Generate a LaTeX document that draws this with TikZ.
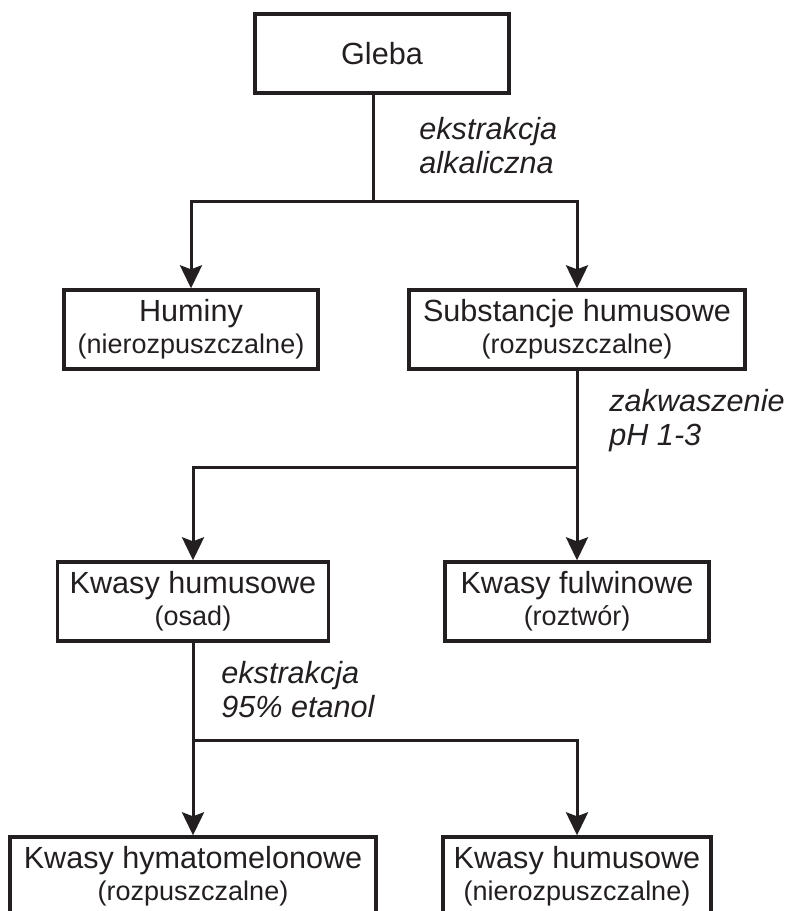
\documentclass[tikz,border=0pt]{standalone}
\usepackage{fontspec}
\setmainfont{Liberation Sans}
\usepackage{tikz}
\usetikzlibrary{arrows.meta}
\definecolor{ciemny}{HTML}{231F20}
\newcommand{\opis}[1]{{\fontsize{13.5}{16}\selectfont #1}}

\begin{document}
\begin{tikzpicture}[x=0.5pt, y=-0.5pt,
        >={Stealth[length=11.5pt, width=11pt, inset=2pt]},
        etap/.style={draw=ciemny, line width=1.7pt, minimum height=39.5pt, inner sep=0pt,
            align=center, text=ciemny, font=\fontsize{15.3}{16}\selectfont},
        proces/.style={anchor=north west, inner sep=0pt, align=left, text=ciemny,
            font=\fontsize{15.3}{17}\selectfont\itshape},
        linia/.style={draw=ciemny, line width=1.5pt}]
        \useasboundingbox (0,0) rectangle (790,911);
        \clip (0,0) rectangle (790,911);

        \node[etap, minimum width=127pt] (gleba) at (382,53.5) {Gleba};
        \node[etap, minimum width=127pt] (huminy) at (191,329.5) {Huminy\\\opis{(nierozpuszczalne)}};
        \node[etap, minimum width=168pt] (substancje) at (577,329.5) {Substancje humusowe\\\opis{(rozpuszczalne)}};
        \node[etap, minimum width=135.5pt] (kwhum) at (193,601.5) {Kwasy humusowe\\\opis{(osad)}};
        \node[etap, minimum width=132pt] (kwful) at (577,601.5) {Kwasy fulwinowe\\\opis{(roztwór)}};
        \node[etap, minimum width=183pt] (kwhym) at (193,876.5) {Kwasy hymatomelonowe\\\opis{(rozpuszczalne)}};
        \node[etap, minimum width=134pt] (kwnier) at (577,876.5) {Kwasy humusowe\\\opis{(nierozpuszczalne)}};

        \node[proces] (alk) at (419,117) {ekstrakcja\\alkaliczna};
        \node[proces] (zakw) at (609,389) {zakwaszenie\\pH 1-3};
        \node[proces] (etan) at (221,661) {ekstrakcja\\95\% etanol};

        \coordinate (w1) at (373,201);
        \coordinate (w2) at (577,467);
        \coordinate (w3) at (193,740);

        \draw[linia] (gleba.south -| w1) -- (w1);
        \draw[linia, ->] (w1) -| (huminy.north);
        \draw[linia, ->] (w1) -| (substancje.north);
        \draw[linia] (substancje.south) -- (w2);
        \draw[linia, ->] (w2) -| (kwhum.north);
        \draw[linia, ->] (w2) -- (kwful.north);
        \draw[linia] (kwhum.south) -- (w3);
        \draw[linia, ->] (w3) -- (kwhym.north);
        \draw[linia, ->] (w3) -| (kwnier.north);
    \end{tikzpicture}
\end{document}
